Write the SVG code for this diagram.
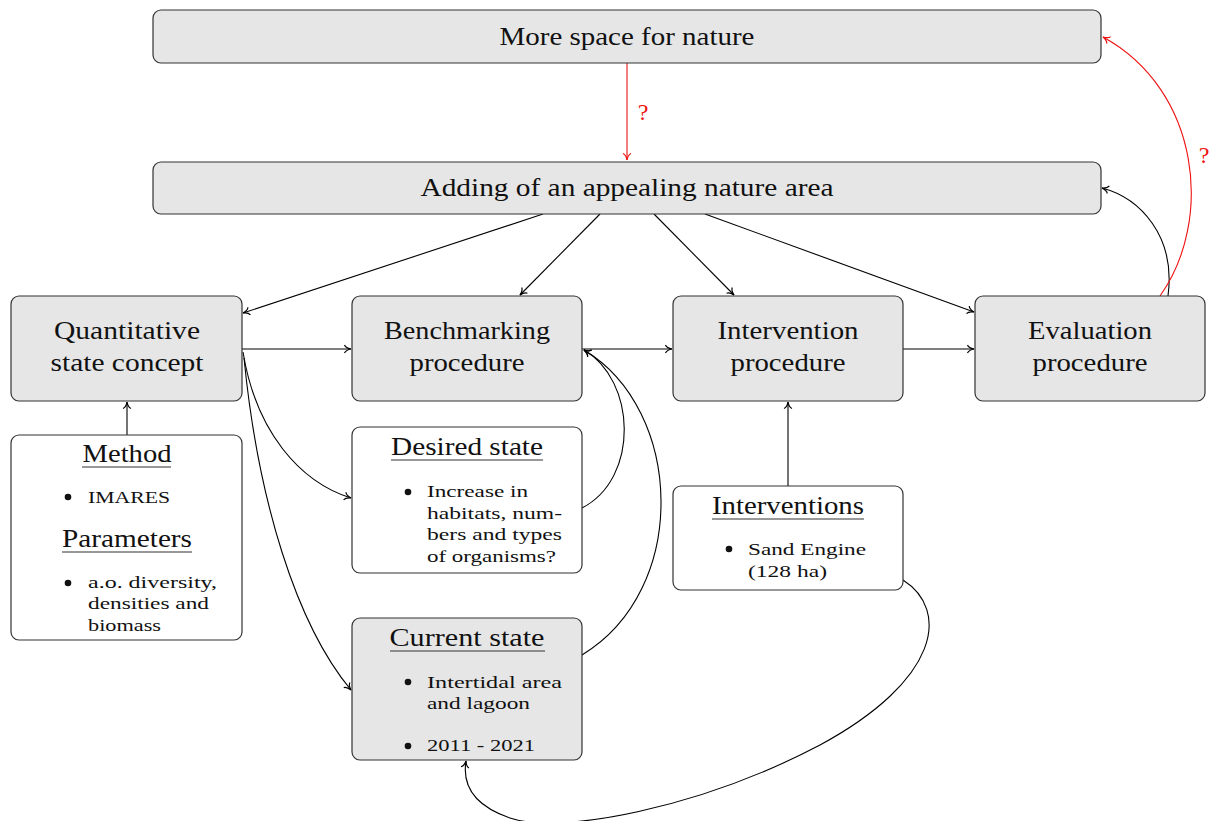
<svg xmlns="http://www.w3.org/2000/svg" width="1211" height="821" viewBox="0 0 1211 821">
  <style>
    .box { stroke: #333; stroke-width: 1.2; }
    .grey { fill: #e6e6e6; }
    .white { fill: #ffffff; }
    .big { font-family: "Liberation Serif", "Times New Roman", serif; font-size: 25px; fill: #111; text-anchor: middle; }
    .small { font-family: "Liberation Serif", "Times New Roman", serif; font-size: 17px; fill: #111; }
    .ul { stroke: #333; stroke-width: 1.1; }
    .dot { fill: #111; }
    .edge { fill: none; stroke: #000; stroke-width: 1.1; marker-end: url(#tip); }
    .red { fill: none; stroke: #ee1111; stroke-width: 1.1; marker-end: url(#tipRed); }
    .q { font-family: "Liberation Serif", "Times New Roman", serif; font-size: 24px; fill: #ee1111; text-anchor: middle; }
  </style>
  <defs>
    <marker id="tip" viewBox="-8 -5 9 10" refX="0" refY="0" markerWidth="9" markerHeight="10" markerUnits="userSpaceOnUse" orient="auto">
      <path d="M-6.5,-4 C-5.5,-1.5 -2.5,-0.5 0,0 C-2.5,0.5 -5.5,1.5 -6.5,4" fill="none" stroke="#000" stroke-width="1.2"/>
    </marker>
    <marker id="tipRed" viewBox="-8 -5 9 10" refX="0" refY="0" markerWidth="9" markerHeight="10" markerUnits="userSpaceOnUse" orient="auto">
      <path d="M-6.5,-4 C-5.5,-1.5 -2.5,-0.5 0,0 C-2.5,0.5 -5.5,1.5 -6.5,4" fill="none" stroke="#ee1111" stroke-width="1.2"/>
    </marker>
  </defs>

  <!-- connectors -->
  <g id="connectors">
    <path class="red" d="M627,63 L627,160"/>
    <path class="edge" d="M543,214 L243,313"/>
    <path class="edge" d="M600,214 L520,295"/>
    <path class="edge" d="M654,214 L734,295"/>
    <path class="edge" d="M705,214 L974,312"/>
    <path class="edge" d="M242,349 L351,349"/>
    <path class="edge" d="M582,349 L672,349"/>
    <path class="edge" d="M903,349 L974,349"/>
    <path class="edge" d="M127,435 L127,402"/>
    <path class="edge" d="M788,486 L788,402"/>
    <path class="edge" d="M243,352 C256,432 300,482 351,498"/>
    <path class="edge" d="M244,358 C258,500 296,624 351,690"/>
    <path class="edge" d="M582,508 C640,478 636,380 584,350"/>
    <path class="edge" d="M582,655 C690,590 684,410 584,350"/>
    <path class="edge" d="M1168,296 C1176,236 1140,198 1102,188"/>
    <path class="red" d="M1160,296 C1214,220 1200,90 1103,37"/>
    <path class="edge" d="M903,580 C950,610 940,680 820,745 C700,808 560,835 510,818 C475,806 462,786 466,761"/>
    <text class="q" x="643" y="120">?</text>
    <text class="q" x="1204" y="163">?</text>
  </g>

  <!-- top boxes -->
  <g id="more-space">
    <rect class="box grey" x="153" y="10" width="948" height="53" rx="8"/>
    <text class="big" x="627" y="45" textLength="255" lengthAdjust="spacingAndGlyphs">More space for nature</text>
  </g>
  <g id="adding-nature">
    <rect class="box grey" x="153" y="162" width="948" height="52" rx="8"/>
    <text class="big" x="627" y="196" textLength="413" lengthAdjust="spacingAndGlyphs">Adding of an appealing nature area</text>
  </g>

  <!-- main row -->
  <g id="quantitative">
    <rect class="box grey" x="11" y="296" width="231" height="105" rx="8"/>
    <text class="big" x="127" y="339" textLength="146" lengthAdjust="spacingAndGlyphs">Quantitative</text>
    <text class="big" x="127" y="371" textLength="153" lengthAdjust="spacingAndGlyphs">state concept</text>
  </g>
  <g id="benchmarking">
    <rect class="box grey" x="352" y="296" width="230" height="105" rx="8"/>
    <text class="big" x="467" y="339" textLength="166" lengthAdjust="spacingAndGlyphs">Benchmarking</text>
    <text class="big" x="467" y="371" textLength="115" lengthAdjust="spacingAndGlyphs">procedure</text>
  </g>
  <g id="intervention">
    <rect class="box grey" x="673" y="296" width="230" height="105" rx="8"/>
    <text class="big" x="788" y="339" textLength="141" lengthAdjust="spacingAndGlyphs">Intervention</text>
    <text class="big" x="788" y="371" textLength="115" lengthAdjust="spacingAndGlyphs">procedure</text>
  </g>
  <g id="evaluation">
    <rect class="box grey" x="975" y="296" width="230" height="105" rx="8"/>
    <text class="big" x="1090" y="339" textLength="124" lengthAdjust="spacingAndGlyphs">Evaluation</text>
    <text class="big" x="1090" y="371" textLength="115" lengthAdjust="spacingAndGlyphs">procedure</text>
  </g>

  <!-- detail boxes -->
  <g id="method">
    <rect class="box white" x="11" y="435" width="231" height="205" rx="8"/>
    <text class="big" x="127" y="462" textLength="89" lengthAdjust="spacingAndGlyphs">Method</text>
    <line class="ul" x1="82" y1="467" x2="171" y2="467"/>
    <circle class="dot" cx="68" cy="497" r="3.3"/>
    <text class="small" x="88" y="503" textLength="82" lengthAdjust="spacingAndGlyphs">IMARES</text>
    <text class="big" x="127" y="547" textLength="130" lengthAdjust="spacingAndGlyphs">Parameters</text>
    <line class="ul" x1="62" y1="552" x2="192" y2="552"/>
    <circle class="dot" cx="68" cy="583" r="3.3"/>
    <text class="small" x="88" y="588" textLength="129" lengthAdjust="spacingAndGlyphs">a.o.  diversity,</text>
    <text class="small" x="88" y="609" textLength="121" lengthAdjust="spacingAndGlyphs">densities and</text>
    <text class="small" x="88" y="631" textLength="73" lengthAdjust="spacingAndGlyphs">biomass</text>
  </g>
  <g id="desired-state">
    <rect class="box white" x="352" y="427" width="230" height="146" rx="8"/>
    <text class="big" x="467" y="455" textLength="152" lengthAdjust="spacingAndGlyphs">Desired state</text>
    <line class="ul" x1="391" y1="460" x2="543" y2="460"/>
    <circle class="dot" cx="408" cy="492" r="3.3"/>
    <text class="small" x="427" y="497" textLength="101" lengthAdjust="spacingAndGlyphs">Increase in</text>
    <text class="small" x="427" y="519" textLength="135" lengthAdjust="spacingAndGlyphs">habitats, num-</text>
    <text class="small" x="427" y="540" textLength="135" lengthAdjust="spacingAndGlyphs">bers and types</text>
    <text class="small" x="427" y="562" textLength="129" lengthAdjust="spacingAndGlyphs">of organisms?</text>
  </g>
  <g id="current-state">
    <rect class="box grey" x="352" y="618" width="230" height="142" rx="8"/>
    <text class="big" x="467" y="646" textLength="155" lengthAdjust="spacingAndGlyphs">Current state</text>
    <line class="ul" x1="390" y1="651" x2="545" y2="651"/>
    <circle class="dot" cx="408" cy="682" r="3.3"/>
    <text class="small" x="427" y="688" textLength="135" lengthAdjust="spacingAndGlyphs">Intertidal area</text>
    <text class="small" x="427" y="709" textLength="103" lengthAdjust="spacingAndGlyphs">and lagoon</text>
    <circle class="dot" cx="408" cy="746" r="3.3"/>
    <text class="small" x="427" y="751" textLength="108" lengthAdjust="spacingAndGlyphs">2011 - 2021</text>
  </g>
  <g id="interventions">
    <rect class="box white" x="673" y="486" width="230" height="104" rx="8"/>
    <text class="big" x="788" y="514" textLength="152" lengthAdjust="spacingAndGlyphs">Interventions</text>
    <line class="ul" x1="712" y1="519" x2="864" y2="519"/>
    <circle class="dot" cx="729" cy="549" r="3.3"/>
    <text class="small" x="748" y="555" textLength="118" lengthAdjust="spacingAndGlyphs">Sand Engine</text>
    <text class="small" x="748" y="577" textLength="79" lengthAdjust="spacingAndGlyphs">(128 ha)</text>
  </g>
</svg>
